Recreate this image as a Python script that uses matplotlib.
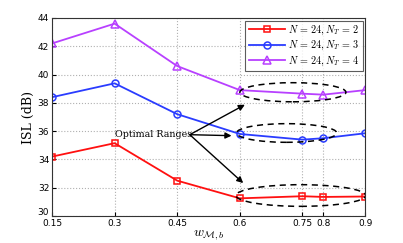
import matplotlib.pyplot as plt
import matplotlib.transforms as mtransforms
from matplotlib.patches import Ellipse

w = [0.15, 0.3, 0.45, 0.6, 0.75, 0.8, 0.9]
isl_nt2 = [34.2, 35.15, 32.5, 31.25, 31.4, 31.35, 31.38]
isl_nt3 = [38.4, 39.38, 37.2, 35.8, 35.4, 35.5, 35.85]
isl_nt4 = [42.2, 43.6, 40.6, 38.9, 38.65, 38.58, 38.9]
labels = [r'$N\,=\,24, N_T\,=\,2$', r'$N\,=\,24, N_T\,=\,3$',
          r'$N\,=\,24, N_T\,=\,4$']
xticks = [0.15, 0.3, 0.45, 0.6, 0.75, 0.8, 0.9]
yticks = [30, 32, 34, 36, 38, 40, 42, 44]

plt.rcParams['mathtext.fontset'] = 'cm'
fig = plt.figure(figsize=(4.03, 2.43), dpi=100)
ax = fig.add_axes([0.129, 0.111, 0.777, 0.815])

ax.plot(w, isl_nt2, color='#ff1010', marker='s', ms=4, mfc='none', mew=1.1,
        lw=1.3, label=labels[0])
ax.plot(w, isl_nt3, color='#2a3cff', marker='o', ms=5, mfc='none', mew=1.1,
        lw=1.3, label=labels[1])
ax.plot(w, isl_nt4, color='#b840ff', marker='^', ms=5.5, mfc='none', mew=1.1,
        lw=1.3, label=labels[2])

# dashed ellipses around the optimal ranges
for cx, cy, ew, eh in [(0.727, 38.75, 0.254, 1.35),
                       (0.712, 35.87, 0.24, 1.32),
                       (0.746, 31.45, 0.311, 1.53)]:
    ax.add_patch(Ellipse((cx, cy), ew, eh, fill=False, ec='black',
                         ls=(0, (4, 3)), lw=1.1, zorder=5))

ax.text(0.3, 35.75, 'Optimal Ranges', family='serif', fontsize=6.8,
        va='center', ha='left')
for tx, ty in [(0.612, 37.87), (0.58, 35.68), (0.608, 32.33)]:
    ax.annotate('', xy=(tx, ty), xytext=(0.48, 35.75),
                arrowprops=dict(arrowstyle='-|>', color='black', lw=1,
                                mutation_scale=9, shrinkA=0, shrinkB=0))

ax.set_xlim(0.15, 0.9)
ax.set_ylim(30, 44)
ax.set_xticks(xticks)
ax.set_xticklabels([str(t) for t in xticks])
ax.set_yticks(yticks)
ax.tick_params(direction='in', labelsize=6.5, length=3, pad=2)
ax.grid(True, ls=':', color='#b0b0b0', lw=0.8)
ax.set_xlabel(r'$w_{\mathcal{M},b}$', fontsize=10, labelpad=0)
ax.set_ylabel('ISL (dB)', family='serif', fontsize=9, labelpad=2)
for s in ax.spines.values():
    s.set_color('#333333')

# lift the "30" label a little so it sits above "0.15"
lbl30 = ax.get_yticklabels()[0]
lbl30.set_transform(lbl30.get_transform() +
                    mtransforms.ScaledTranslation(0, 3 / 72, fig.dpi_scale_trans))

leg = ax.legend(loc='upper right', fontsize=7.3, fancybox=False,
                edgecolor='#333333', borderaxespad=0.25, handlelength=3.6,
                labelspacing=0.2, borderpad=0.3, handletextpad=0.3)
leg.get_frame().set_linewidth(0.8)

fig.savefig('out.png', dpi=100)
